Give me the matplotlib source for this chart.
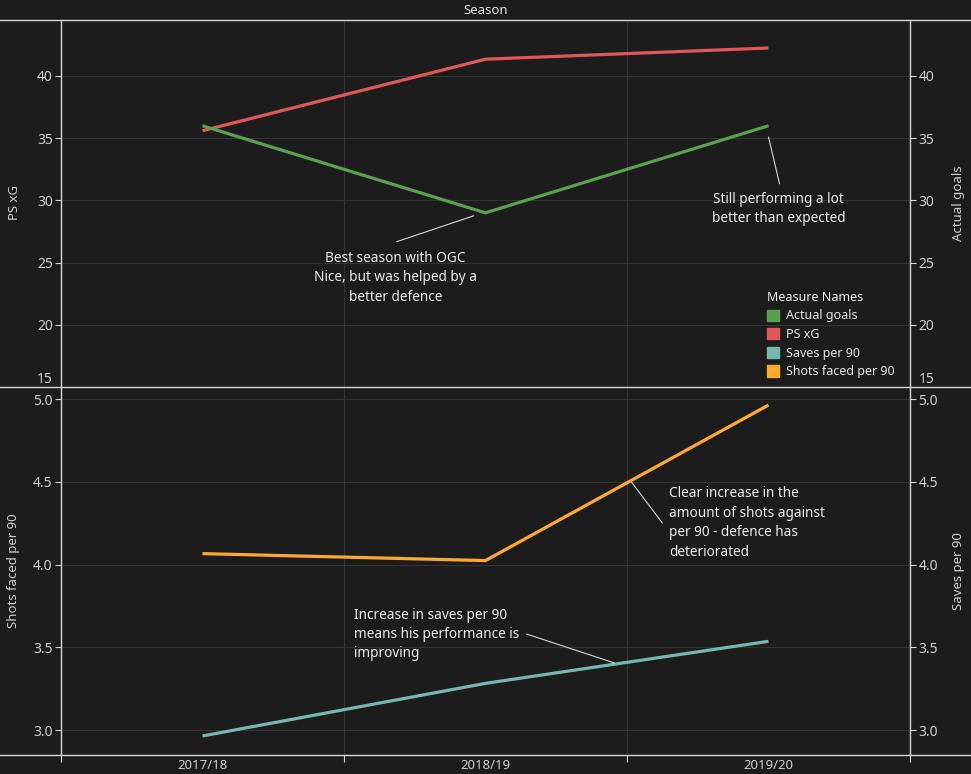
import matplotlib
matplotlib.use("Agg")
import matplotlib.pyplot as plt
from matplotlib.lines import Line2D
from matplotlib.patches import Patch

seasons = ["2017/18", "2018/19", "2019/20"]
actual_goals = [36.0, 29.0, 36.0]
ps_xg = [35.6, 41.35, 42.25]
shots_faced_per_90 = [4.066, 4.024, 4.964]
saves_per_90 = [2.964, 3.282, 3.536]

top_ticks = [15, 20, 25, 30, 35, 40]
bottom_ticks = [3.0, 3.5, 4.0, 4.5, 5.0]

BG = "#1c1c1c"
AX = "#d6d6d6"
TXT = "#cfcfcf"
GRID = "#343434"
C_GREEN = "#59a14f"
C_RED = "#e15759"
C_TEAL = "#76b7b2"
C_ORANGE = "#ffa82e"

plt.rcParams['font.family'] = ['Noto Sans', 'DejaVu Sans']

W, H = 971, 774
fig = plt.figure(figsize=(W / 100, H / 100), dpi=100, facecolor=BG)

def fx(px):
    return px / W

def fy(py):
    return 1 - py / H

left, right = 61, 910
ax1 = fig.add_axes([fx(left), fy(387), fx(right - left), fy(20) - fy(387)])
ax2 = fig.add_axes([fx(left), fy(755), fx(right - left), fy(387) - fy(755)])

x = list(range(len(seasons)))

def style(ax, ticks, ylim, fmt):
    ax.set_facecolor(BG)
    ax.set_xlim(-0.5, 2.5)
    ax.set_ylim(*ylim)
    ax.set_yticks(ticks)
    ax.set_yticklabels([fmt.format(t) for t in ticks])
    ax.set_xticks([-0.5, 0.5, 1.5, 2.5])
    ax.set_xticks(x, minor=True)
    ax.grid(axis='y', color=GRID, linewidth=0.8)
    ax.grid(axis='x', which='major', color=GRID, linewidth=0.8)
    ax.set_axisbelow(True)
    for s in ['top', 'bottom']:
        ax.spines[s].set_visible(False)
    for s in ['left', 'right']:
        ax.spines[s].set_color(AX)
        ax.spines[s].set_linewidth(1.0)
    ax.tick_params(axis='y', colors=AX, labelcolor=TXT, labelsize=10, length=4, width=0.8,
                   left=True, right=True, labelleft=True, labelright=True, pad=2)

style(ax1, top_ticks, (15, 44.5), "{:d}")
style(ax2, bottom_ticks, (2.849, 5.073), "{:.1f}")

ax1.tick_params(axis='x', which='both', bottom=False, labelbottom=False)
ax2.tick_params(axis='x', which='major', bottom=True, labelbottom=False, length=5, color=AX, width=0.8)
ax2.tick_params(axis='x', which='minor', bottom=True, length=0, labelcolor=TXT, labelsize=9.5, pad=3)
ax2.set_xticklabels(seasons, minor=True)

# tweak the "15" labels so they sit above the panel divider
t0 = ax1.yaxis.get_major_ticks()[0]
t0.tick1line.set_visible(False)
t0.tick2line.set_visible(False)
for lab in [t0.label1, t0.label2]:
    lab.set_verticalalignment('bottom')

ax1.plot(x, ps_xg, color=C_RED, linewidth=2.3, solid_capstyle='butt')
ax1.plot(x, actual_goals, color=C_GREEN, linewidth=2.3, solid_capstyle='butt')
ax2.plot(x, shots_faced_per_90, color=C_ORANGE, linewidth=2.3, solid_capstyle='butt')
ax2.plot(x, saves_per_90, color=C_TEAL, linewidth=2.3, solid_capstyle='butt')

# axis titles
fig.text(fx(14), fy(203), "PS xG", rotation=90, ha='center', va='center', color=TXT, fontsize=9.5)
fig.text(fx(958), fy(203), "Actual goals", rotation=90, ha='center', va='center', color=TXT, fontsize=9.5)
fig.text(fx(14), fy(571), "Shots faced per 90", rotation=90, ha='center', va='center', color=TXT, fontsize=9.5)
fig.text(fx(958), fy(571), "Saves per 90", rotation=90, ha='center', va='center', color=TXT, fontsize=9.5)
fig.text(fx(486), fy(10), "Season", ha='center', va='center', color="#e6e6e6", fontsize=9.5)

# divider lines
for py in [20, 387, 755]:
    fig.add_artist(Line2D([0, 1], [fy(py), fy(py)], color=AX, linewidth=1.0, transform=fig.transFigure))

# legend
handles = [Patch(color=C_GREEN, label="Actual goals"),
           Patch(color=C_RED, label="PS xG"),
           Patch(color=C_TEAL, label="Saves per 90"),
           Patch(color=C_ORANGE, label="Shots faced per 90")]
leg = ax1.legend(handles=handles, title="Measure Names", loc='lower right',
                 bbox_to_anchor=(fx(903 - left) / fx(right - left), 0.0),
                 frameon=False, fontsize=9, title_fontsize=9, handlelength=1.0, handleheight=1.0,
                 handletextpad=0.5, labelspacing=0.45, borderaxespad=0.3, alignment='left')
for t in leg.get_texts():
    t.set_color("#e6e6e6")
leg.get_title().set_color("#f0f0f0")
leg.get_title().set_fontweight('semibold')

ANN = "#ececec"
akw = dict(arrowprops=dict(arrowstyle='-', color="#d8d8d8", linewidth=0.8, shrinkA=0, shrinkB=0))

# annotation 1
ax1.annotate("", xy=(0.958, 28.76), xytext=(0.686, 26.68), **akw)
ax1.text(0.682, 23.79, "Best season with OGC\nNice, but was helped by a\nbetter defence",
         ha='center', va='center', color=ANN, fontsize=9.8, linespacing=1.4, fontweight='medium')
# annotation 2
ax1.annotate("", xy=(2.0, 35.1), xytext=(2.039, 31.33), **akw)
ax1.text(2.035, 29.29, "Still performing a lot\nbetter than expected",
         ha='center', va='center', color=ANN, fontsize=9.8, linespacing=1.4, fontweight='medium')
# annotation 3
ax2.annotate("", xy=(1.516, 4.498), xytext=(1.625, 4.251), **akw)
ax2.text(1.650, 4.251, "Clear increase in the\namount of shots against\nper 90 - defence has\ndeteriorated",
         ha='left', va='center', color=ANN, fontsize=9.8, linespacing=1.4, fontweight='medium')
# annotation 4
ax2.annotate("", xy=(1.456, 3.405), xytext=(1.145, 3.580), **akw)
ax2.text(0.537, 3.577, "Increase in saves per 90\nmeans his performance is\nimproving",
         ha='left', va='center', color=ANN, fontsize=9.8, linespacing=1.4, fontweight='medium')

fig.savefig("out.png", dpi=100, facecolor=BG)
